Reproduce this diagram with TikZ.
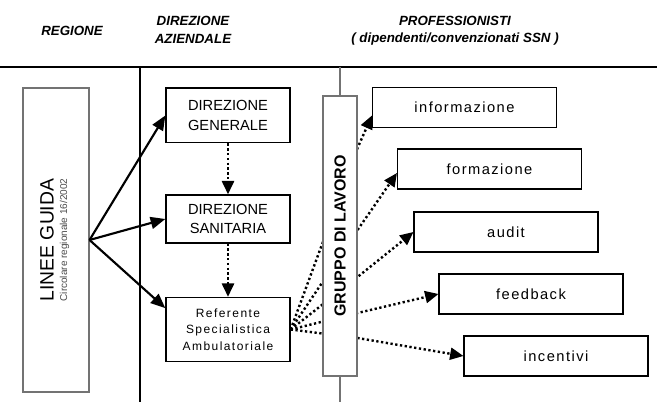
\documentclass[tikz,border=0pt]{standalone}
\usepackage{fontspec}
\setmainfont{Liberation Sans}
\usepackage{graphicx}
\usetikzlibrary{arrows.meta,calc,backgrounds}

\tikzset{
  head/.style={align=center, font=\bfseries\itshape\fontsize{10}{13}\selectfont},
  box/.style={draw, line width=1pt, align=center, inner sep=0pt, minimum width=93pt},
  grey box/.style={draw=black!55, line width=0.8pt, fill=white, inner sep=0pt},
  task/.style={draw, line width=0.8pt, inner sep=0pt, minimum width=138pt, minimum height=30pt,
    font=\addfontfeature{LetterSpace=10}\fontsize{11}{12}\selectfont},
  solid arrow/.style={line width=1.6pt, -{Triangle[length=11pt,width=9pt]}},
  dot arrow/.style={line width=1.8pt, dash pattern=on 1.7pt off 1.9pt, -{Triangle[length=10pt,width=9pt]}}
}

\begin{document}
\begin{tikzpicture}[x=0.75pt,y=-0.75pt]
  \useasboundingbox (0,0) rectangle (657,402);

  % headings
  \node[head] (regione) at (72,31) {REGIONE};
  \node[head] (azienda) at (193,30) {DIREZIONE\\AZIENDALE};
  \node[head] (prof) at (455,31) {PROFESSIONISTI\\( dipendenti/convenzionati SSN )};

  % columns
  \draw[line width=1.5pt] (0,67) -- (657,67);
  \draw[line width=0.9pt] (140,67) -- (140,402);
  \draw[black!55, line width=0.8pt] (340,67) -- (340,402);

  % regione
  \node[grey box, minimum width=49.5pt, minimum height=228pt] (linee) at (56,240)
    {\rotatebox{90}{\begin{tabular}{@{}c@{}}{\fontsize{14.5}{15}\selectfont LINEE GUIDA}\\[-2pt]
      {\color{black!70}\fontsize{7.5}{8}\selectfont Circolare regionale 16/2002}\end{tabular}}};

  % direzione aziendale
  \node[box, minimum height=41pt, font=\fontsize{11}{14.5}\selectfont] (dg) at (228,115.5) {DIREZIONE\\GENERALE};
  \node[box, minimum height=36pt, font=\fontsize{11}{14.5}\selectfont] (ds) at (228,219) {DIREZIONE\\SANITARIA};
  \node[box, minimum height=48pt, font=\addfontfeature{LetterSpace=12}\fontsize{9}{12.4}\selectfont] (ref) at (228,329.5)
    {Referente\\Specialistica\\Ambulatoriale};

  % professionisti
  \node[task] (info) at (464.5,107.5) {informazione};
  \node[task] (form) at (489.5,169) {formazione};
  \node[task] (audit) at (506,232) {audit};
  \node[task] (feed) at (531,294) {feedback};
  \node[task] (inc) at (556,356) {incentivi};

  \node[grey box, minimum width=25.5pt, minimum height=210pt] (gruppo) at (340,236)
    {\rotatebox{90}{\bfseries\fontsize{12}{13}\selectfont GRUPPO DI LAVORO}};

  % arrows
  \draw[solid arrow] (linee.east) -- (dg.west);
  \draw[solid arrow] (linee.east) -- (ds.west);
  \draw[solid arrow] (linee.east) -- ([yshift=16pt]ref.west);
  \draw[dot arrow] (dg.south) -- (ds.north);
  \draw[dot arrow] (ds.south) -- (ref.north);

  \begin{pgfonlayer}{background}
    \draw[dot arrow] (ref.east) -- ($(gruppo.east)+(0,-88)$) -- ([yshift=-6pt]info.west);
    \draw[dot arrow] (ref.east) -- ($(gruppo.east)+(0,-6)$) -- ([yshift=-3pt]form.west);
    \draw[dot arrow] (ref.east) -- ($(gruppo.east)+(0,41)$) -- (audit.west);
    \draw[dot arrow] (ref.east) -- ($(gruppo.east)+(0,77)$) -- (feed.west);
    \draw[dot arrow] (ref.east) -- ($(gruppo.east)+(0,102)$) -- (inc.west);
  \end{pgfonlayer}
\end{tikzpicture}
\end{document}
